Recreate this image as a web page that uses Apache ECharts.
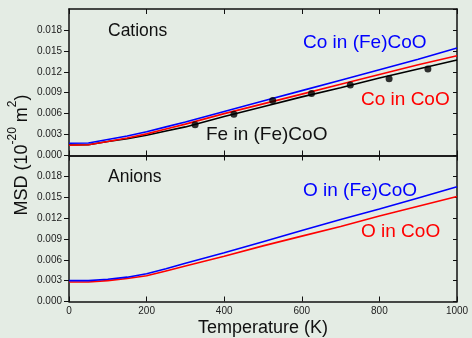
<!DOCTYPE html>
<html><head><meta charset="utf-8">
<script src="https://cdn.jsdelivr.net/npm/echarts@6/dist/echarts.min.js"></script>
<style>html,body{margin:0;padding:0;background:#e4ece4;}#c{width:472px;height:338px;}</style>
</head><body><div id="c"></div>
<script>
const temps = [0, 50, 100, 150, 200, 250, 300, 400, 500, 600, 700, 800, 900, 1000];
const coInFeCoO = [0.00175, 0.0018, 0.0023, 0.0028, 0.0034, 0.0041, 0.0048, 0.0063, 0.0078, 0.0093, 0.0108, 0.0123, 0.0138, 0.0154];
const coInCoO   = [0.00148, 0.00155, 0.0020, 0.0025, 0.0031, 0.0038, 0.0045, 0.0060, 0.0074, 0.0088, 0.0102, 0.0116, 0.0130, 0.0143];
const feInFeCoO = [0.0015, 0.00155, 0.0020, 0.0024, 0.0029, 0.0035, 0.0041, 0.0056, 0.0070, 0.0084, 0.0097, 0.0111, 0.0124, 0.0137];
const dotTemps  = [325, 425, 525, 625, 725, 825, 925];
const dotValues = [0.0044, 0.0059, 0.0079, 0.0089, 0.0101, 0.0110, 0.0124];
const oInFeCoO  = [0.0030, 0.0030, 0.0032, 0.0035, 0.0040, 0.0047, 0.0055, 0.0070, 0.0086, 0.0102, 0.0118, 0.0133, 0.0149, 0.0165];
const oInCoO    = [0.0028, 0.0028, 0.0030, 0.0033, 0.0037, 0.0044, 0.0051, 0.0065, 0.0080, 0.0094, 0.0108, 0.0123, 0.0137, 0.0151];
const xTicks = [0, 200, 400, 600, 800, 1000];
const yTicks = [0, 0.003, 0.006, 0.009, 0.012, 0.015, 0.018];

const FONT = "'Liberation Sans', Arial, sans-serif";
const pairs = (xs, ys) => xs.map((x, i) => [x, ys[i]]);
const axisLine = {show: true, onZero: false, lineStyle: {color: '#111', width: 1.5}};

function xAx(grid, pos, labels) {
  return {type: 'value', gridIndex: grid, position: pos, min: 0, max: 1000, interval: 200,
    axisLine, splitLine: {show: false},
    axisTick: {show: true, inside: true, length: 5, lineStyle: {color: '#111', width: 1}},
    axisLabel: {show: labels, fontSize: 10, color: '#222', fontFamily: FONT, margin: 5,
      formatter: v => xTicks.includes(v) ? String(v) : ''}};
}
function yAx(grid, pos, labels) {
  return {type: 'value', gridIndex: grid, position: pos, min: 0, max: 0.021, interval: 0.003,
    axisLine, splitLine: {show: false},
    axisTick: {show: true, inside: !labels, length: labels ? 5 : 4, lineStyle: {color: '#111', width: 1}},
    axisLabel: {show: labels, fontSize: 10, color: '#222', fontFamily: FONT, margin: 7, showMaxLabel: false,
      formatter: v => yTicks.some(t => Math.abs(t - v) < 1e-9) ? v.toFixed(3) : ''}};
}
function line(name, xi, yi, data, color) {
  return {name, type: 'line', xAxisIndex: xi, yAxisIndex: yi, data: pairs(temps, data),
    smooth: false, showSymbol: false, lineStyle: {color, width: 1.6},
    z: color === '#000' ? 3 : (color === '#ff0000' ? 4 : 5)};
}
function label(text, x, y, color, size) {
  return {type: 'text', x, y, z: 100, style: {text, fill: color, font: size + 'px ' + FONT, align: 'left', verticalAlign: 'middle'}};
}

const chart = echarts.init(document.getElementById('c'), null, {renderer: 'canvas'});
chart.setOption({
  backgroundColor: '#e4ece4',
  animation: false,
  grid: [
    {left: 69, right: 15, top: 9, height: 146.5},
    {left: 69, right: 15, top: 155.5, height: 146}
  ],
  xAxis: [xAx(0, 'bottom', false), xAx(0, 'top', false), xAx(1, 'bottom', true), xAx(1, 'top', false)],
  yAxis: [yAx(0, 'left', true), yAx(0, 'right', false), yAx(1, 'left', true), yAx(1, 'right', false)],
  series: [
    line('Fe in (Fe)CoO', 0, 0, feInFeCoO, '#000'),
    line('Co in CoO', 0, 0, coInCoO, '#ff0000'),
    line('Co in (Fe)CoO', 0, 0, coInFeCoO, '#0000ff'),
    {name: 'Fe points', type: 'scatter', xAxisIndex: 0, yAxisIndex: 0, data: pairs(dotTemps, dotValues),
      symbol: 'circle', symbolSize: 7, itemStyle: {color: '#000'}, z: 10},
    line('O in CoO', 2, 2, oInCoO, '#ff0000'),
    line('O in (Fe)CoO', 2, 2, oInFeCoO, '#0000ff')
  ],
  graphic: [
    label('Cations', 108, 31, '#111', 17.5),
    label('Anions', 108, 177, '#111', 17.5),
    label('Co in (Fe)CoO', 303, 43, '#0000ff', 19),
    label('Co in CoO', 361, 100, '#ff0000', 19),
    label('Fe in (Fe)CoO', 206, 135, '#111', 19),
    label('O in (Fe)CoO', 303, 191, '#0000ff', 19),
    label('O in CoO', 361, 232, '#ff0000', 19),
    {type: 'text', x: 263, y: 328, z: 100, style: {text: 'Temperature (K)', fill: '#111', font: '18px ' + FONT, align: 'center', verticalAlign: 'middle'}},
    {type: 'text', x: 19, y: 155, rotation: Math.PI / 2, z: 100,
      style: {text: '{n|MSD (10}{s|-20}{n| m}{s|2}{n|)}', fill: '#111', align: 'center', verticalAlign: 'middle',
        rich: {n: {fontSize: 18, fontFamily: FONT, lineHeight: 24, verticalAlign: 'bottom', fill: '#111'},
               s: {fontSize: 12, fontFamily: FONT, lineHeight: 24, verticalAlign: 'top', fill: '#111'}}}}
  ]
});
</script>
</body></html>
